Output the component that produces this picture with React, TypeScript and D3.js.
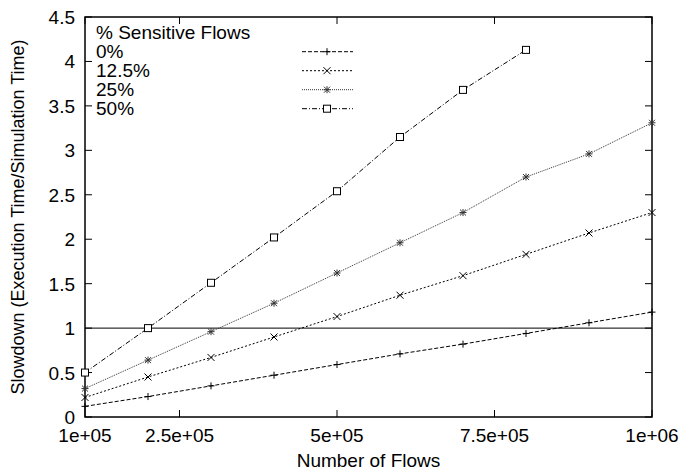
import React, { useEffect, useRef } from 'react';
import * as d3 from 'd3';

const flows = [1e5, 2e5, 3e5, 4e5, 5e5, 6e5, 7e5, 8e5, 9e5, 1e6];
const xTicks = [1e5, 2.5e5, 5e5, 7.5e5, 1e6];
const xTickLabels = ['1e+05', '2.5e+05', '5e+05', '7.5e+05', '1e+06'];
const yTicks = [0, 0.5, 1, 1.5, 2, 2.5, 3, 3.5, 4, 4.5];

const pct0 = [0.12, 0.23, 0.35, 0.47, 0.59, 0.71, 0.82, 0.94, 1.06, 1.18];
const pct125 = [0.22, 0.45, 0.67, 0.9, 1.13, 1.37, 1.59, 1.83, 2.07, 2.3];
const pct25 = [0.32, 0.64, 0.96, 1.28, 1.62, 1.96, 2.3, 2.7, 2.96, 3.31];
const pct50 = [0.5, 1.0, 1.51, 2.02, 2.54, 3.15, 3.68, 4.13];

const seriesNames = ['0%', '12.5%', '25%', '50%'];

export default function App() {
  const svgRef = useRef<SVGSVGElement>(null);

  useEffect(() => {
    if (!svgRef.current) return;
    const svg = d3.select(svgRef.current);
    svg.selectAll('*').remove();

    const width = 679;
    const height = 472;
    const margin = { top: 17, right: 27, bottom: 55, left: 85 };
    const font = 'Liberation Sans, Arial, sans-serif';
    const fs = 19;

    const x = d3.scaleLinear().domain([1e5, 1e6]).range([margin.left, width - margin.right]);
    const y = d3.scaleLinear().domain([0, 4.5]).range([height - margin.bottom, margin.top]);

    const series = [
      { name: seriesNames[0], values: pct0, dash: '4,2', marker: 'plus', color: '#000' },
      { name: seriesNames[1], values: pct125, dash: '2,2', marker: 'cross', color: '#000' },
      { name: seriesNames[2], values: pct25, dash: '1,1', marker: 'star', color: '#333' },
      { name: seriesNames[3], values: pct50, dash: '5,2,1,2', marker: 'square', color: '#000' },
    ];

    // frame
    svg.append('rect')
      .attr('x', margin.left).attr('y', margin.top)
      .attr('width', x.range()[1] - margin.left)
      .attr('height', y.range()[0] - margin.top)
      .attr('fill', 'none').attr('stroke', '#000').attr('stroke-width', 1.5);

    const tick = 7;
    // y ticks
    const yt = svg.append('g');
    yTicks.forEach(t => {
      const yy = y(t);
      yt.append('line').attr('x1', margin.left).attr('x2', margin.left + tick)
        .attr('y1', yy).attr('y2', yy).attr('stroke', '#000');
      yt.append('line').attr('x1', x.range()[1]).attr('x2', x.range()[1] - tick)
        .attr('y1', yy).attr('y2', yy).attr('stroke', '#000');
      yt.append('text').attr('x', margin.left - 10).attr('y', yy + 7)
        .attr('text-anchor', 'end').attr('font-family', font).attr('font-size', fs)
        .text(String(t));
    });

    // x ticks
    const xt = svg.append('g');
    xTicks.forEach((t, i) => {
      const xx = x(t);
      xt.append('line').attr('x1', xx).attr('x2', xx)
        .attr('y1', y.range()[0]).attr('y2', y.range()[0] - tick).attr('stroke', '#000');
      xt.append('line').attr('x1', xx).attr('x2', xx)
        .attr('y1', margin.top).attr('y2', margin.top + tick).attr('stroke', '#000');
      xt.append('text').attr('x', xx).attr('y', y.range()[0] + 25)
        .attr('text-anchor', 'middle').attr('font-family', font).attr('font-size', fs)
        .text(xTickLabels[i]);
    });

    // axis titles
    svg.append('text').attr('x', (margin.left + x.range()[1]) / 2).attr('y', 467)
      .attr('text-anchor', 'middle').attr('font-family', font).attr('font-size', fs)
      .text('Number of Flows');
    svg.append('text')
      .attr('transform', `translate(24,${(margin.top + y.range()[0]) / 2}) rotate(-90)`)
      .attr('text-anchor', 'middle').attr('font-family', font).attr('font-size', 18)
      .text('Slowdown (Execution Time/Simulation Time)');

    // reference line at 1
    svg.append('line').attr('x1', margin.left).attr('x2', x.range()[1])
      .attr('y1', y(1)).attr('y2', y(1)).attr('stroke', '#000').attr('stroke-width', 1);

    const drawMarker = (g: any, kind: string, cx: number, cy: number, color: string) => {
      const s = 3.5;
      if (kind === 'plus' || kind === 'star') {
        g.append('path').attr('d', `M${cx - s},${cy}H${cx + s}M${cx},${cy - s}V${cy + s}`)
          .attr('stroke', color).attr('stroke-width', 1);
      }
      if (kind === 'cross' || kind === 'star') {
        const d = kind === 'star' ? s * 0.85 : s;
        g.append('path').attr('d', `M${cx - d},${cy - d}L${cx + d},${cy + d}M${cx - d},${cy + d}L${cx + d},${cy - d}`)
          .attr('stroke', color).attr('stroke-width', 1);
      }
      if (kind === 'square') {
        g.append('rect').attr('x', cx - s).attr('y', cy - s).attr('width', 2 * s).attr('height', 2 * s)
          .attr('fill', '#fff').attr('stroke', color).attr('stroke-width', 1);
      }
    };

    const line = d3.line<number>()
      .x((_, i) => x(flows[i]))
      .y(d => y(d));

    series.forEach(s => {
      const g = svg.append('g');
      g.append('path').datum(s.values).attr('d', line)
        .attr('fill', 'none').attr('stroke', s.color).attr('stroke-width', 1)
        .attr('stroke-dasharray', s.dash);
      s.values.forEach((v, i) => drawMarker(g, s.marker, x(flows[i]), y(v), s.color));
    });

    // legend
    const lg = svg.append('g');
    lg.append('text').attr('x', 96).attr('y', 39).attr('font-family', font).attr('font-size', fs)
      .text('% Sensitive Flows');
    series.forEach((s, i) => {
      const yy = 51.7 + i * 19;
      lg.append('text').attr('x', 96).attr('y', yy + 6.5).attr('font-family', font).attr('font-size', fs)
        .text(s.name);
      lg.append('line').attr('x1', 302).attr('x2', 353).attr('y1', yy).attr('y2', yy)
        .attr('stroke', s.color).attr('stroke-width', 1).attr('stroke-dasharray', s.dash);
      drawMarker(lg, s.marker, 327, yy, s.color);
    });
  }, []);

  return (
    <svg ref={svgRef} width={679} height={472} viewBox="0 0 679 472"
      style={{ position: 'absolute', left: 0, top: 0, background: '#fff' }} />
  );
}
